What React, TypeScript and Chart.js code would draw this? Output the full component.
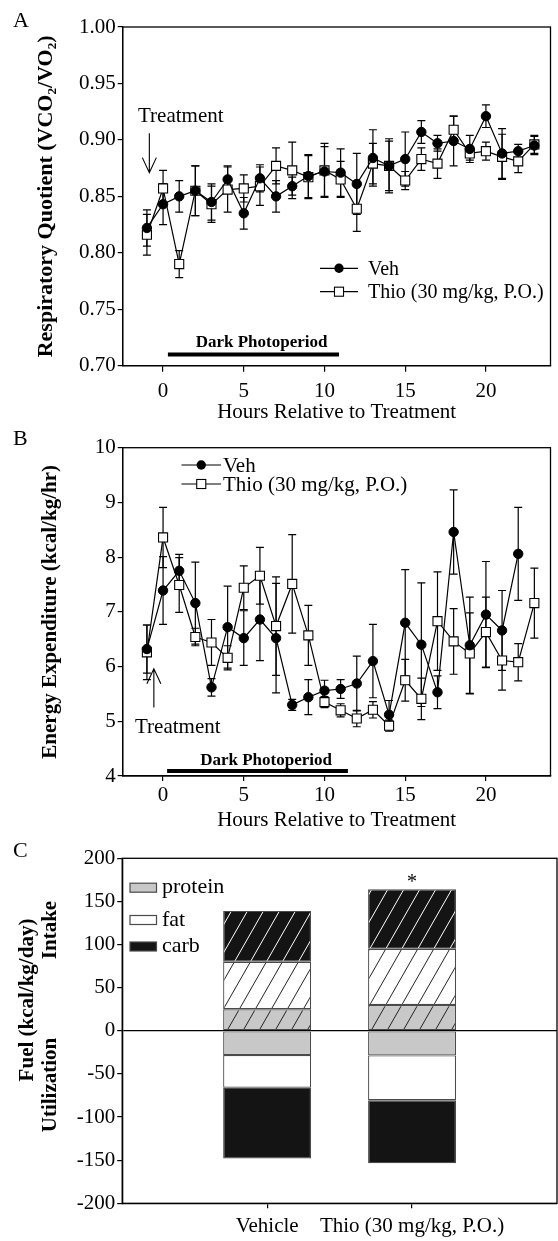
import React, { useEffect, useRef } from 'react';
import { Chart, registerables } from 'chart.js';

Chart.register(...registerables);

const SERIF = '"Liberation Serif", "Times New Roman", Times, serif';

// ---------- shared x (hours) ----------
const hours = [-1, 0, 1, 2, 3, 4, 5, 6, 7, 8, 9, 10, 11, 12, 13, 14, 15, 16, 17, 18, 19, 20, 21, 22, 23];
const hourTicks = [0, 5, 10, 15, 20];
const seriesLabels = ['Veh', 'Thio (30 mg/kg, P.O.)'];

// ---------- Panel A: respiratory quotient ----------
const rqVeh = [0.822, 0.843, 0.850, 0.855, 0.845, 0.865, 0.835, 0.866, 0.850, 0.859, 0.868, 0.872, 0.871, 0.861, 0.884, 0.877, 0.883, 0.907, 0.897, 0.899, 0.892, 0.921, 0.888, 0.890, 0.895];
const rqVehErr = [0.016, 0.018, 0.014, 0.022, 0.016, 0.012, 0.014, 0.012, 0.014, 0.008, 0.019, 0.022, 0.021, 0.027, 0.025, 0.024, 0.024, 0.010, 0.007, 0.022, 0.012, 0.010, 0.022, 0.006, 0.008];
const rqThio = [0.816, 0.857, 0.790, 0.855, 0.843, 0.856, 0.857, 0.859, 0.877, 0.873, 0.867, 0.873, 0.865, 0.839, 0.879, 0.877, 0.864, 0.883, 0.879, 0.909, 0.888, 0.890, 0.885, 0.881, 0.896];
const rqThioErr = [0.018, 0.016, 0.012, 0.022, 0.016, 0.020, 0.012, 0.017, 0.016, 0.025, 0.019, 0.024, 0.016, 0.020, 0.018, 0.022, 0.008, 0.010, 0.013, 0.012, 0.006, 0.008, 0.020, 0.010, 0.008];
const rqTicks = [0.7, 0.75, 0.8, 0.85, 0.9, 0.95, 1.0];

// ---------- Panel B: energy expenditure ----------
const eeVeh = [6.32, 7.39, 7.75, 7.16, 5.62, 6.72, 6.52, 6.86, 6.52, 5.30, 5.44, 5.56, 5.59, 5.69, 6.10, 5.12, 6.80, 6.40, 5.53, 8.46, 6.39, 6.95, 6.66, 8.06, null];
const eeVehErr = [0.44, 0.62, 0.30, 0.75, 0.16, 0.75, 0.50, 0.75, 1.0, 0.10, 0.32, 0.19, 0.17, 0.50, 0.67, 0.26, 0.97, 1.13, 0.30, 0.77, 0.88, 0.97, 0.73, 0.85, 0];
const eeThio = [6.26, 8.36, 7.49, 6.54, 6.44, 6.16, 7.44, 7.66, 6.74, 7.51, 6.57, 5.35, 5.20, 5.05, 5.21, 4.92, 5.75, 5.41, 6.83, 6.46, 6.24, 6.63, 6.11, 6.08, 7.16];
const eeThioErr = [0.50, 0.55, 0.50, 0.16, 0.42, 0.22, 0.40, 0.52, 0.90, 0.90, 0.55, 0.10, 0.12, 0.15, 0.15, 0.10, 0.38, 0.38, 0.90, 0.60, 0.74, 0.64, 0.54, 0.34, 0.64];
const eeTicks = [4, 5, 6, 7, 8, 9, 10];

// ---------- Panel C: fuel intake / utilization ----------
const fuelGroups = ['Vehicle', 'Thio (30 mg/kg, P.O.)'];
const fuelGroupPos = [1, 2];
const intakeProtein = [25, 30];
const intakeFat = [55, 65];
const intakeCarb = [59, 69];
const utilProtein = [-28, -28.5];
const utilFat = [-38, -52];
const utilCarb = [-82, -73];
const fuelTicks = [-200, -150, -100, -50, 0, 50, 100, 150, 200];
const fuelLegend = ['protein', 'fat', 'carb'];

const PROTEIN = '#c8c8c8';
const FAT = '#ffffff';
const CARB = '#141414';

const CIRCLE_R = 4.7;
const RECT_R = 6.4;

function pointsOf(xs: number[], ys: (number | null)[]) {
  return xs.map((x, i) => ({ x, y: ys[i] }));
}

const errorBarPlugin = {
  id: 'errorBars',
  beforeDatasetsDraw(chart: any) {
    const { ctx } = chart;
    const xs = chart.scales.x;
    const ys = chart.scales.y;
    ctx.save();
    ctx.strokeStyle = '#000';
    ctx.lineWidth = 1.2;
    chart.data.datasets.forEach((ds: any) => {
      const errs = ds.errors;
      if (!errs) return;
      ds.data.forEach((p: any, j: number) => {
        if (p == null || p.y == null || !errs[j]) return;
        const x = xs.getPixelForValue(p.x);
        const y1 = ys.getPixelForValue(p.y - errs[j]);
        const y2 = ys.getPixelForValue(p.y + errs[j]);
        ctx.beginPath();
        ctx.moveTo(x, y1);
        ctx.lineTo(x, y2);
        ctx.moveTo(x - 4, y1);
        ctx.lineTo(x + 4, y1);
        ctx.moveTo(x - 4, y2);
        ctx.lineTo(x + 4, y2);
        ctx.stroke();
      });
    });
    ctx.restore();
  },
};

function drawCircle(ctx: CanvasRenderingContext2D, x: number, y: number) {
  ctx.beginPath();
  ctx.arc(x, y, CIRCLE_R, 0, Math.PI * 2);
  ctx.fillStyle = '#000';
  ctx.fill();
}
function drawSquare(ctx: CanvasRenderingContext2D, x: number, y: number) {
  const h = Math.SQRT1_2 * RECT_R;
  ctx.fillStyle = '#fff';
  ctx.fillRect(x - h, y - h, 2 * h, 2 * h);
  ctx.lineWidth = 1.1;
  ctx.strokeStyle = '#000';
  ctx.strokeRect(x - h, y - h, 2 * h, 2 * h);
}

function drawSeriesLegend(ctx: CanvasRenderingContext2D, x0: number, x1: number, xt: number, rows: number[], size: number) {
  ctx.save();
  rows.forEach((ry, i) => {
    ctx.strokeStyle = '#000';
    ctx.lineWidth = 1.2;
    ctx.beginPath();
    ctx.moveTo(x0, ry);
    ctx.lineTo(x1, ry);
    ctx.stroke();
    const xm = (x0 + x1) / 2;
    if (i === 0) drawCircle(ctx, xm, ry);
    else drawSquare(ctx, xm, ry);
    ctx.fillStyle = '#000';
    ctx.font = `${size}px ${SERIF}`;
    ctx.textAlign = 'left';
    ctx.textBaseline = 'middle';
    ctx.fillText(seriesLabels[i], xt, ry + 1);
  });
  ctx.restore();
}

function drawArrow(ctx: CanvasRenderingContext2D, x: number, yFrom: number, yTo: number) {
  const dir = yTo > yFrom ? 1 : -1;
  ctx.save();
  ctx.strokeStyle = '#000';
  ctx.lineWidth = 1.1;
  ctx.beginPath();
  ctx.moveTo(x, yFrom);
  ctx.lineTo(x, yTo);
  ctx.moveTo(x - 7, yTo - dir * 15);
  ctx.lineTo(x, yTo);
  ctx.lineTo(x + 7, yTo - dir * 15);
  ctx.stroke();
  ctx.restore();
}

function drawPhotoperiod(chart: any, from: number, to: number, yVal: number, textHour: number, textVal: number) {
  const { ctx } = chart;
  const xs = chart.scales.x;
  const ys = chart.scales.y;
  ctx.save();
  ctx.strokeStyle = '#000';
  ctx.lineWidth = 4;
  ctx.beginPath();
  ctx.moveTo(xs.getPixelForValue(from), ys.getPixelForValue(yVal));
  ctx.lineTo(xs.getPixelForValue(to), ys.getPixelForValue(yVal));
  ctx.stroke();
  ctx.fillStyle = '#000';
  ctx.font = `bold 17px ${SERIF}`;
  ctx.textAlign = 'center';
  ctx.textBaseline = 'alphabetic';
  ctx.fillText('Dark Photoperiod', xs.getPixelForValue(textHour), ys.getPixelForValue(textVal));
  ctx.restore();
}

function drawFrame(chart: any) {
  const { ctx, chartArea: a } = chart;
  ctx.save();
  ctx.strokeStyle = '#000';
  ctx.lineWidth = 1.3;
  ctx.strokeRect(a.left, a.top, a.right - a.left, a.bottom - a.top);
  ctx.restore();
}

function drawPanelLetter(ctx: CanvasRenderingContext2D, letter: string, baseline: number) {
  ctx.save();
  ctx.fillStyle = '#000';
  ctx.font = `22px ${SERIF}`;
  ctx.textAlign = 'left';
  ctx.textBaseline = 'alphabetic';
  ctx.fillText(letter, 13, baseline);
  ctx.restore();
}

function notesPlugin(draw: (chart: any) => void) {
  return {
    id: 'notes',
    afterDraw(chart: any) {
      drawFrame(chart);
      chart.ctx.save();
      draw(chart);
      chart.ctx.restore();
    },
  };
}

const tickFont = { family: SERIF, size: 21 };

function lineConfig(p: any): any {
  return {
    type: 'line',
    data: {
      datasets: [
        {
          label: seriesLabels[0],
          data: pointsOf(hours, p.veh),
          errors: p.vehErr,
          borderColor: '#000',
          borderWidth: 1.2,
          pointStyle: 'circle',
          pointRadius: CIRCLE_R,
          pointBackgroundColor: '#000',
          pointBorderColor: '#000',
          pointBorderWidth: 1,
          tension: 0,
          fill: false,
        },
        {
          label: seriesLabels[1],
          data: pointsOf(hours, p.thio),
          errors: p.thioErr,
          borderColor: '#000',
          borderWidth: 1.2,
          pointStyle: 'rect',
          pointRadius: RECT_R,
          pointBackgroundColor: '#fff',
          pointBorderColor: '#000',
          pointBorderWidth: 1.1,
          tension: 0,
          fill: false,
        },
      ],
    },
    options: {
      responsive: false,
      animation: false,
      devicePixelRatio: 1,
      layout: { padding: { top: p.padTop, right: 1, left: 0, bottom: 0 } },
      plugins: { legend: { display: false }, tooltip: { enabled: false } },
      scales: {
        x: {
          type: 'linear',
          min: -2.5,
          max: 24,
          afterBuildTicks: (s: any) => {
            s.ticks = hourTicks.map((v) => ({ value: v }));
          },
          afterFit: (s: any) => {
            s.height = p.xAxisH;
          },
          grid: { drawOnChartArea: false, drawTicks: true, tickLength: p.xTickLen, color: '#000', lineWidth: 1.2 },
          border: { display: true, color: '#000', width: 1.3 },
          ticks: { font: tickFont, color: '#000', padding: p.xTickPad, maxRotation: 0, autoSkip: false },
          title: {
            display: true,
            text: 'Hours Relative to Treatment',
            font: { family: SERIF, size: 21 },
            color: '#000',
            padding: { top: 0, bottom: p.xTitlePad },
          },
        },
        y: {
          type: 'linear',
          min: p.yMin,
          max: p.yMax,
          afterBuildTicks: (s: any) => {
            s.ticks = p.yTicks.map((v: number) => ({ value: v }));
          },
          afterFit: (s: any) => {
            s.width = 122.7;
          },
          grid: { drawOnChartArea: false, drawTicks: true, tickLength: 5, color: '#000', lineWidth: 1.2 },
          border: { display: true, color: '#000', width: 1.3 },
          ticks: { font: tickFont, color: '#000', padding: 2, callback: p.yFmt },
          title: {
            display: true,
            text: p.yTitle,
            font: { family: SERIF, size: p.yTitleSize, weight: 'bold' },
            color: '#000',
            padding: { top: p.yTitlePad, bottom: 0 },
          },
        },
      },
    },
    plugins: [errorBarPlugin, notesPlugin(p.notes)],
  };
}

function configA(): any {
  return lineConfig({
    veh: rqVeh,
    vehErr: rqVehErr,
    thio: rqThio,
    thioErr: rqThioErr,
    yMin: 0.7,
    yMax: 1.0,
    yTicks: rqTicks,
    yFmt: (v: number) => Number(v).toFixed(2),
    yTitle: 'Respiratory Quotient (VCO\u2082/VO\u2082)',
    yTitleSize: 22,
    yTitlePad: 33,
    padTop: 27,
    xAxisH: 425 - 365.7,
    xTickLen: 6,
    xTickPad: 7,
    xTitlePad: 0,
    notes: (chart: any) => {
      const { ctx } = chart;
      const xs = chart.scales.x;
      const ys = chart.scales.y;
      drawPanelLetter(ctx, 'A', 27);
      ctx.fillStyle = '#000';
      ctx.font = `21px ${SERIF}`;
      ctx.textAlign = 'left';
      ctx.textBaseline = 'alphabetic';
      ctx.fillText('Treatment', 138, 121.5);
      drawArrow(ctx, xs.getPixelForValue(-0.85), ys.getPixelForValue(0.906), ys.getPixelForValue(0.871));
      drawPhotoperiod(chart, 0.3, 10.9, 0.71, 6.1, 0.7168);
      drawSeriesLegend(ctx, 320, 358, 368, [268.3, 291.7], 20);
    },
  });
}

function configB(): any {
  return lineConfig({
    veh: eeVeh,
    vehErr: eeVehErr,
    thio: eeThio,
    thioErr: eeThioErr,
    yMin: 4,
    yMax: 10,
    yTicks: eeTicks,
    yFmt: (v: number) => String(v),
    yTitle: 'Energy Expenditure (kcal/kg/hr)',
    yTitleSize: 21,
    yTitlePad: 38,
    padTop: 22.7,
    xAxisH: 415 - (776 - 425),
    xTickLen: 5,
    xTickPad: 1.5,
    xTitlePad: 6.5,
    notes: (chart: any) => {
      const { ctx } = chart;
      const xs = chart.scales.x;
      const ys = chart.scales.y;
      drawPanelLetter(ctx, 'B', 20);
      ctx.fillStyle = '#000';
      ctx.font = `21px ${SERIF}`;
      ctx.textAlign = 'left';
      ctx.textBaseline = 'alphabetic';
      ctx.fillText('Treatment', 135, 308);
      drawArrow(ctx, xs.getPixelForValue(-0.57), ys.getPixelForValue(5.25), ys.getPixelForValue(5.96));
      drawPhotoperiod(chart, 0.25, 11.45, 4.09, 6.38, 4.2);
      drawSeriesLegend(ctx, 181.5, 221, 223, [40, 59], 21);
    },
  });
}

function hatch(bg: string, line: string): any {
  const w = 16;
  const h = 28;
  const c = document.createElement('canvas');
  c.width = w;
  c.height = h;
  const g = c.getContext('2d')!;
  g.fillStyle = bg;
  g.fillRect(0, 0, w, h);
  g.strokeStyle = line;
  g.lineWidth = 1;
  g.beginPath();
  g.moveTo(0, h);
  g.lineTo(w, 0);
  g.moveTo(-w, h);
  g.lineTo(0, 0);
  g.moveTo(w, h);
  g.lineTo(2 * w, 0);
  g.stroke();
  return g.createPattern(c, 'repeat');
}

function configC(): any {
  const bar = (label: string, vals: number[], bg: any) => ({
    label,
    data: pointsOf(fuelGroupPos, vals),
    backgroundColor: bg,
    borderColor: '#4a4a4a',
    borderWidth: 1.2,
    borderSkipped: false,
  });
  return {
    type: 'bar',
    data: {
      datasets: [
        bar('protein intake', intakeProtein, hatch(PROTEIN, '#222')),
        bar('fat intake', intakeFat, hatch(FAT, '#222')),
        bar('carb intake', intakeCarb, hatch(CARB, '#fff')),
        bar('protein utilization', utilProtein, PROTEIN),
        bar('fat utilization', utilFat, FAT),
        bar('carb utilization', utilCarb, CARB),
      ],
    },
    options: {
      responsive: false,
      animation: false,
      devicePixelRatio: 1,
      layout: { padding: { top: 18.3, right: 1, left: 0, bottom: 0 } },
      plugins: { legend: { display: false }, tooltip: { enabled: false } },
      datasets: { bar: { categoryPercentage: 1, barPercentage: 0.607 } },
      scales: {
        x: {
          type: 'linear',
          min: 0,
          max: 3,
          offset: false,
          stacked: true,
          afterBuildTicks: (s: any) => {
            s.ticks = fuelGroupPos.map((v) => ({ value: v }));
          },
          afterFit: (s: any) => {
            s.height = 401 - (1203.3 - 840);
          },
          grid: { offset: false, drawOnChartArea: false, drawTicks: true, tickLength: 5, color: '#000', lineWidth: 1.2 },
          border: { display: true, color: '#000', width: 1.3 },
          ticks: {
            font: tickFont,
            color: '#000',
            padding: 6,
            maxRotation: 0,
            autoSkip: false,
            callback: (v: number) => fuelGroups[fuelGroupPos.indexOf(v)] ?? '',
          },
        },
        y: {
          type: 'linear',
          min: -200,
          max: 200,
          stacked: true,
          afterBuildTicks: (s: any) => {
            s.ticks = fuelTicks.map((v) => ({ value: v }));
          },
          afterFit: (s: any) => {
            s.width = 122.2;
          },
          grid: {
            drawOnChartArea: true,
            drawTicks: true,
            tickLength: 5,
            tickColor: '#000',
            color: (c: any) => (c.tick && c.tick.value === 0 ? '#000' : 'rgba(0,0,0,0)'),
            lineWidth: 1.2,
          },
          border: { display: true, color: '#000', width: 1.3 },
          ticks: { font: tickFont, color: '#000', padding: 2, callback: (v: number) => String(v) },
        },
      },
    },
    plugins: [
      notesPlugin((chart: any) => {
        const { ctx } = chart;
        const xs = chart.scales.x;
        const ys = chart.scales.y;
        drawPanelLetter(ctx, 'C', 17);
        // legend
        const fills = [PROTEIN, FAT, CARB];
        const rows = [47.7, 80, 106.5];
        rows.forEach((ry, i) => {
          ctx.fillStyle = fills[i];
          ctx.fillRect(130, ry - 4.5, 26.5, 9);
          ctx.strokeStyle = '#4a4a4a';
          ctx.lineWidth = 1.2;
          ctx.strokeRect(130, ry - 4.5, 26.5, 9);
          ctx.fillStyle = '#000';
          ctx.font = `22px ${SERIF}`;
          ctx.textAlign = 'left';
          ctx.textBaseline = 'middle';
          ctx.fillText(fuelLegend[i], 162, ry);
        });
        // significance mark
        ctx.font = `20px ${SERIF}`;
        ctx.textAlign = 'center';
        ctx.textBaseline = 'alphabetic';
        ctx.fillText('*', xs.getPixelForValue(2), ys.getPixelForValue(166));
        // y-axis titles
        ctx.font = `bold 21px ${SERIF}`;
        ctx.textBaseline = 'middle';
        const vt = (text: string, x: number, y: number) => {
          ctx.save();
          ctx.translate(x, y);
          ctx.rotate(-Math.PI / 2);
          ctx.fillText(text, 0, 0);
          ctx.restore();
        };
        vt('Fuel (kcal/kg/day)', 28, 160);
        vt('Intake', 51, 90);
        vt('Utilization', 51, 245);
      }),
    ],
  };
}

export default function App() {
  const refA = useRef<HTMLCanvasElement>(null);
  const refB = useRef<HTMLCanvasElement>(null);
  const refC = useRef<HTMLCanvasElement>(null);

  useEffect(() => {
    const charts = [
      new Chart(refA.current as HTMLCanvasElement, configA()),
      new Chart(refB.current as HTMLCanvasElement, configB()),
      new Chart(refC.current as HTMLCanvasElement, configC()),
    ];
    return () => charts.forEach((c) => c.destroy());
  }, []);

  return (
    <div style={{ position: 'absolute', left: 0, top: 0, width: 558, height: 1241, background: '#fff' }}>
      <canvas ref={refA} width={558} height={425} style={{ position: 'absolute', left: 0, top: 0 }} />
      <canvas ref={refB} width={558} height={415} style={{ position: 'absolute', left: 0, top: 425 }} />
      <canvas ref={refC} width={558} height={401} style={{ position: 'absolute', left: 0, top: 840 }} />
    </div>
  );
}
